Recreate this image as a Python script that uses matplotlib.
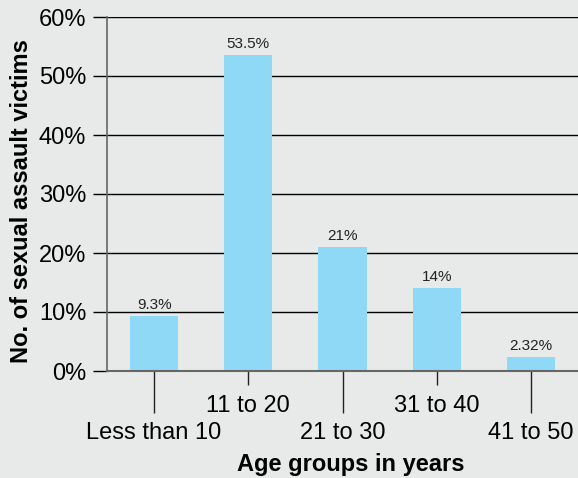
import matplotlib
matplotlib.use("Agg")
import matplotlib.pyplot as plt
from matplotlib.ticker import FixedLocator, FuncFormatter

categories = ["Less than 10", "11 to 20", "21 to 30", "31 to 40", "41 to 50"]
values = [9.3, 53.5, 21, 14, 2.32]
value_labels = ["9.3%", "53.5%", "21%", "14%", "2.32%"]
y_ticks = [0, 10, 20, 30, 40, 50, 60]

plt.rcParams['font.family'] = ['Liberation Sans', 'DejaVu Sans']
bg = "#e8e9e9"
bar_color = "#8fd9f7"

fig = plt.figure(figsize=(5.78, 4.78), dpi=100, facecolor=bg)
ax = fig.add_axes([107/578, 1 - 371/478, 1 - 107/578, (371 - 17)/478])
ax.set_facecolor(bg)

x = list(range(len(categories)))
ax.bar(x, values, width=0.51, color=bar_color, zorder=3)
for xi, v, lab in zip(x, values, value_labels):
    ax.annotate(lab, (xi, v), xytext=(0, 3), textcoords="offset points",
                ha="center", va="bottom", fontsize=11, color="#222222", zorder=4)

ax.set_xlim(-0.5, 4.5)
ax.set_ylim(0, 60)
ax.set_yticks(y_ticks)
ax.yaxis.set_major_formatter(FuncFormatter(lambda v, p: f"{int(v)}%"))
ax.grid(axis="y", color="black", linewidth=1.0, zorder=1)
ax.tick_params(axis="y", length=10, width=1.0, color="black", labelsize=17, pad=5)

# staggered x tick labels
major = [i for i in x if i % 2 == 0]
minor = [i for i in x if i % 2 == 1]
ax.xaxis.set_major_locator(FixedLocator(major))
ax.xaxis.set_minor_locator(FixedLocator(minor))
ax.set_xticklabels([categories[i] for i in major])
ax.set_xticklabels([categories[i] for i in minor], minor=True)
ax.tick_params(axis="x", which="major", length=30, width=1.0, color="#222222",
               labelsize=17, pad=7)
ax.tick_params(axis="x", which="minor", length=10, width=1.0, color="#222222",
               labelsize=17, pad=7)

for s in ["top", "right"]:
    ax.spines[s].set_visible(False)
ax.spines["left"].set_color("#666666")
ax.spines["bottom"].set_color("#666666")
ax.spines["left"].set_linewidth(1.2)
ax.spines["bottom"].set_linewidth(1.5)
ax.spines["bottom"].set_zorder(5)

ax.set_xlabel("Age groups in years", fontsize=17, fontweight="bold")
ax.set_ylabel("No. of sexual assault victims", fontsize=17, fontweight="bold")
ax.xaxis.set_label_coords(0.518, -0.232)
ax.yaxis.set_label_coords(-0.157, 0.479)

fig.savefig("out.png", dpi=100, facecolor=bg)
